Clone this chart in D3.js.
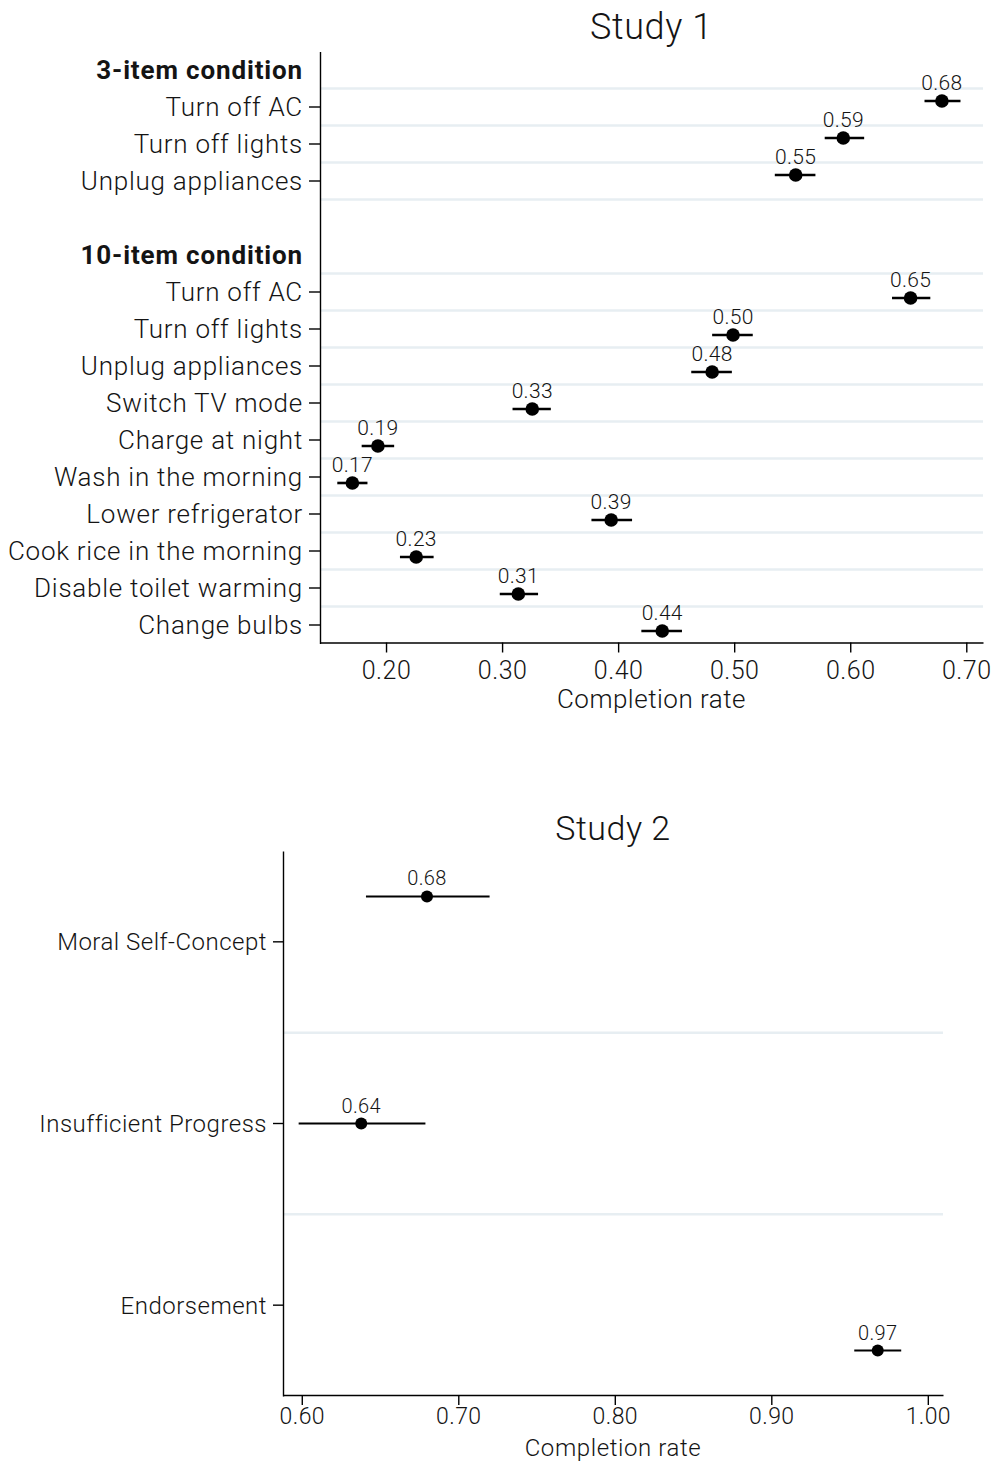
<!DOCTYPE html>
<html>
<head>
<meta charset="utf-8">
<script src="https://cdn.jsdelivr.net/npm/d3@7"></script>
<style>
  body { margin: 0; background: #fff; }
  svg text { font-family: Roboto, "Liberation Sans", Arial, sans-serif; font-weight: 300; fill: #141414; }
  .axis path, .axis line { stroke: #000; stroke-width: 1.4; }
</style>
</head>
<body>
<svg id="chart" width="996" height="1461"></svg>
<script>
// ---- Study 1: completion rates by task and condition ----
const groupTitles = ["3-item condition", "10-item condition"];

const items3 = ["Turn off AC", "Turn off lights", "Unplug appliances"];
const rate3  = [0.679, 0.594, 0.553];
const lo3    = [0.664, 0.578, 0.535];
const hi3    = [0.695, 0.612, 0.570];

const items10 = ["Turn off AC", "Turn off lights", "Unplug appliances", "Switch TV mode",
                 "Charge at night", "Wash in the morning", "Lower refrigerator",
                 "Cook rice in the morning", "Disable toilet warming", "Change bulbs"];
const rate10  = [0.652, 0.499, 0.481, 0.326, 0.193, 0.171, 0.394, 0.226, 0.314, 0.438];
const lo10    = [0.636, 0.481, 0.463, 0.309, 0.179, 0.158, 0.377, 0.212, 0.298, 0.420];
const hi10    = [0.669, 0.516, 0.498, 0.342, 0.207, 0.184, 0.412, 0.241, 0.331, 0.455];

const ticks1 = [0.20, 0.30, 0.40, 0.50, 0.60, 0.70];

// ---- Study 2: completion rates by message ----
const messages2 = ["Moral Self-Concept", "Insufficient Progress", "Endorsement"];
const rate2     = [0.680, 0.638, 0.968];
const lo2       = [0.641, 0.598, 0.953];
const hi2       = [0.720, 0.679, 0.983];

const ticks2 = [0.60, 0.70, 0.80, 0.90, 1.00];

const fmt = d3.format(".2f");
const svg = d3.select("#chart");
const gridColor = "#e7eef2";

// ================= Study 1 =================
(function () {
  const left = 320, right = 983, top = 51.5, bottom = 643.5;

  // one row per header, item and the spacer between the two groups
  const rows = [];
  rows.push({ key: "h3", type: "header", label: groupTitles[0] });
  items3.forEach((it, i) => rows.push({ key: "a" + i, type: "item", label: it,
    v: rate3[i], lo: lo3[i], hi: hi3[i], shift: -1 }));
  rows.push({ key: "gap", type: "blank", label: "" });
  rows.push({ key: "h10", type: "header", label: groupTitles[1] });
  items10.forEach((it, i) => rows.push({ key: "b" + i, type: "item", label: it,
    v: rate10[i], lo: lo10[i], hi: hi10[i], shift: 1 }));

  const x = d3.scaleLinear().domain([0.1431, 0.7144]).range([left, right]);
  const y = d3.scaleBand().domain(rows.map(r => r.key)).range([top, bottom]);
  const bw = y.bandwidth();
  const mid = k => y(k) + bw / 2;
  const off = 0.162 * bw;

  const g = svg.append("g");

  // horizontal separators below each non-empty row
  g.append("g").selectAll("line")
    .data(rows.filter((r, i) => r.type !== "blank" && i < rows.length - 1))
    .join("line")
    .attr("x1", left).attr("x2", right)
    .attr("y1", r => y(r.key) + bw).attr("y2", r => y(r.key) + bw)
    .attr("stroke", gridColor).attr("stroke-width", 2.5);

  // y axis: item labels
  const labelOf = new Map(rows.map(r => [r.key, r.label]));
  const yAxis = g.append("g").attr("class", "axis")
    .attr("transform", `translate(${left},0)`)
    .call(d3.axisLeft(y)
      .tickValues(rows.filter(r => r.type === "item").map(r => r.key))
      .tickFormat(k => labelOf.get(k))
      .tickSize(11).tickSizeOuter(0).tickPadding(6));
  yAxis.selectAll("text").attr("font-size", 26).attr("dy", "0.36em")
    .style("letter-spacing", "0.75px");

  // group headers
  g.append("g").selectAll("text")
    .data(rows.filter(r => r.type === "header"))
    .join("text")
    .attr("x", left - 17).attr("y", r => mid(r.key)).attr("dy", "0.36em")
    .attr("text-anchor", "end").attr("font-size", 26)
    .style("font-weight", 700).style("letter-spacing", "0.85px")
    .text(r => r.label);

  // x axis
  const xAxis = g.append("g").attr("class", "axis")
    .attr("transform", `translate(0,${bottom - 1})`)
    .call(d3.axisBottom(x).tickValues(ticks1).tickFormat(fmt)
      .tickSize(10).tickSizeOuter(0).tickPadding(9));
  xAxis.selectAll("text").attr("font-size", 25).style("letter-spacing", "0.5px");

  g.append("text").attr("x", (left + right) / 2).attr("y", 708)
    .attr("text-anchor", "middle").attr("font-size", 26)
    .style("letter-spacing", "0.5px").text("Completion rate");

  g.append("text").attr("x", (left + right) / 2).attr("y", 39)
    .attr("text-anchor", "middle").attr("font-size", 36)
    .style("letter-spacing", "0.6px").text("Study 1");

  // estimates with confidence intervals
  const pts = rows.filter(r => r.type === "item");
  const cy = r => mid(r.key) + r.shift * off;
  const m = g.append("g").selectAll("g").data(pts).join("g");
  m.append("line")
    .attr("x1", r => x(r.lo)).attr("x2", r => x(r.hi))
    .attr("y1", cy).attr("y2", cy)
    .attr("stroke", "#000").attr("stroke-width", 2.6);
  m.append("circle")
    .attr("cx", r => x(r.v)).attr("cy", cy).attr("r", 6.8).attr("fill", "#000");
  m.append("text")
    .attr("x", r => x(r.v)).attr("y", r => cy(r) - 11)
    .attr("text-anchor", "middle").attr("font-size", 21)
    .style("letter-spacing", "0.3px")
    .text(r => fmt(r.v));
})();

// ================= Study 2 =================
(function () {
  const left = 283, right = 943, top = 851, bottom = 1396;

  const x = d3.scaleLinear().domain([0.588, 1.0097]).range([left, right]);
  const y = d3.scaleBand().domain(messages2).range([top, bottom]);
  const bw = y.bandwidth();
  const mid = k => y(k) + bw / 2;
  const shifts = [-0.25, 0, 0.25];

  const g = svg.append("g");

  g.append("g").selectAll("line")
    .data(messages2.slice(0, -1))
    .join("line")
    .attr("x1", left).attr("x2", right)
    .attr("y1", k => y(k) + bw).attr("y2", k => y(k) + bw)
    .attr("stroke", gridColor).attr("stroke-width", 2.5);

  const yAxis = g.append("g").attr("class", "axis")
    .attr("transform", `translate(${left},0)`)
    .call(d3.axisLeft(y).tickSize(10).tickSizeOuter(0).tickPadding(6));
  yAxis.selectAll("text").attr("font-size", 24).attr("dy", "0.36em")
    .style("letter-spacing", "0.5px");

  const xAxis = g.append("g").attr("class", "axis")
    .attr("transform", `translate(0,${bottom - 1})`)
    .call(d3.axisBottom(x).tickValues(ticks2).tickFormat(fmt)
      .tickSize(10).tickSizeOuter(0).tickPadding(3));
  xAxis.selectAll("text").attr("font-size", 23).style("letter-spacing", "0.4px");

  g.append("text").attr("x", (left + right) / 2).attr("y", 1456)
    .attr("text-anchor", "middle").attr("font-size", 24)
    .style("letter-spacing", "0.6px").text("Completion rate");

  g.append("text").attr("x", (left + right) / 2).attr("y", 840)
    .attr("text-anchor", "middle").attr("font-size", 34)
    .style("letter-spacing", "0.5px").text("Study 2");

  const pts = messages2.map((k, i) => ({ k, v: rate2[i], lo: lo2[i], hi: hi2[i], s: shifts[i] }));
  const cy = p => mid(p.k) + p.s * bw;
  const m = g.append("g").selectAll("g").data(pts).join("g");
  m.append("line")
    .attr("x1", p => x(p.lo)).attr("x2", p => x(p.hi))
    .attr("y1", cy).attr("y2", cy)
    .attr("stroke", "#000").attr("stroke-width", 2);
  m.append("circle")
    .attr("cx", p => x(p.v)).attr("cy", cy).attr("r", 6).attr("fill", "#000");
  m.append("text")
    .attr("x", p => x(p.v)).attr("y", p => cy(p) - 11)
    .attr("text-anchor", "middle").attr("font-size", 20)
    .style("letter-spacing", "0.3px")
    .text(p => fmt(p.v));
})();
</script>
</body>
</html>
